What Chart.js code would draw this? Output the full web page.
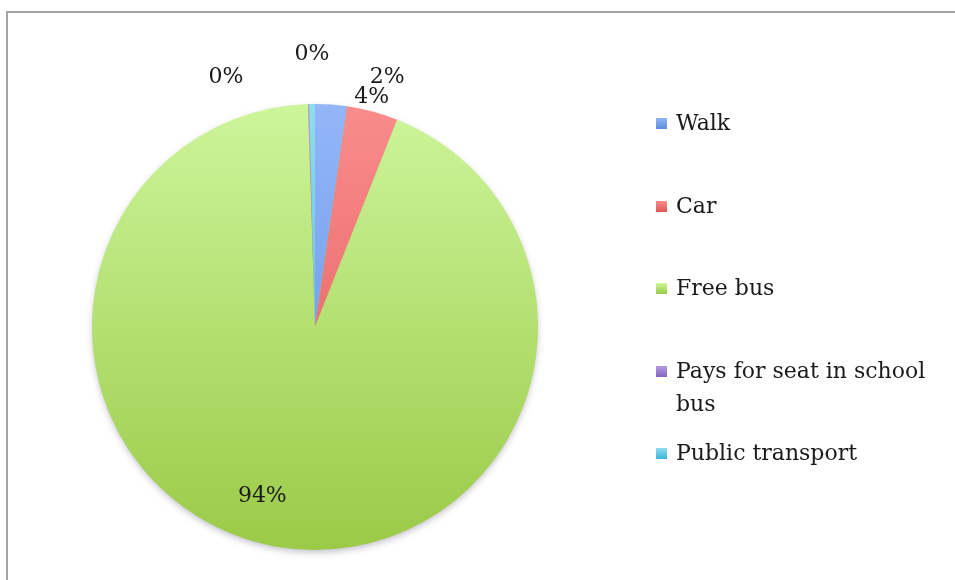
<!DOCTYPE html>
<html>
<head>
<meta charset="utf-8">
<script src="https://cdn.jsdelivr.net/npm/chart.js@4"></script>
<style>
    body { margin: 0; background: #fff; }
    #wrap { position: relative; width: 955px; height: 580px; overflow: hidden; }
    #frame { position: absolute; left: 6px; top: 11px; right: -10px; bottom: -10px;
             border-top: 2px solid #a3a3a3; border-left: 2px solid #a3a3a3; }
    #pie { position: absolute; left: 0; top: 0; }
    #legend { position: absolute; left: 656px; top: 106px; width: 280px;
              font-family: 'DejaVu Serif', serif; font-size: 22px; color: #1a1a1a; }
    .item { display: flex; align-items: flex-start; line-height: 33px; height: 82.5px; }
    .box { flex: none; width: 11px; height: 11px; margin: 12px 9px 0 0; }
</style>
</head>
<body>
<div id="wrap">
    <div id="frame"></div>
    <canvas id="pie" width="955" height="580"></canvas>
    <div id="legend"></div>
</div>
<script>
const categories = ['Walk', 'Car', 'Free bus', 'Pays for seat in school bus', 'Public transport'];
const shares = [2.3, 3.7, 93.5, 0.1, 0.4];

// slice gradients [top, bottom]
const sliceColors = [
    ['#93b6f8', '#5b8ee0'],
    ['#fa8c8c', '#e05757'],
    ['#cdf59b', '#9bca47'],
    ['#b39be0', '#8466c2'],
    ['#8edcf2', '#3fb4d6']
];

// label nudges relative to default spot (Excel "best fit" placement)
const labelNudge = [[54, 1], [-8, 13], [-22, -6], [-82, 1], [0, -22]];

const total = shares.reduce((a, b) => a + b, 0);

const legend = document.getElementById('legend');
categories.forEach((name, i) => {
    const row = document.createElement('div');
    row.className = 'item';
    const box = document.createElement('div');
    box.className = 'box';
    box.style.background = 'linear-gradient(' + sliceColors[i][0] + ',' + sliceColors[i][1] + ')';
    const txt = document.createElement('div');
    txt.textContent = name;
    row.appendChild(box);
    row.appendChild(txt);
    legend.appendChild(row);
});

function sliceFill(context) {
    const chart = context.chart;
    const area = chart.chartArea;
    if (!area) return sliceColors[context.dataIndex][1];
    const g = chart.ctx.createLinearGradient(0, area.top, 0, area.bottom);
    const c = sliceColors[context.dataIndex];
    g.addColorStop(0, c[0]);
    g.addColorStop(1, c[1]);
    return g;
}

const pieShadow = {
    id: 'pieShadow',
    beforeDatasetsDraw(chart) {
        const arc = chart.getDatasetMeta(0).data[0];
        if (!arc) return;
        const ctx = chart.ctx;
        ctx.save();
        ctx.shadowColor = 'rgba(60, 60, 90, 0.35)';
        ctx.shadowBlur = 7;
        ctx.shadowOffsetY = 3;
        ctx.fillStyle = '#a8d460';
        ctx.beginPath();
        ctx.arc(arc.x, arc.y, arc.outerRadius - 1, 0, Math.PI * 2);
        ctx.fill();
        ctx.restore();
    }
};

const pctLabels = {
    id: 'pctLabels',
    afterDatasetsDraw(chart) {
        const ctx = chart.ctx;
        ctx.save();
        ctx.font = '22px "DejaVu Serif", serif';
        ctx.fillStyle = '#1a1a1a';
        ctx.textAlign = 'center';
        ctx.textBaseline = 'middle';
        chart.getDatasetMeta(0).data.forEach((arc, i) => {
            const p = arc.getProps(['x', 'y', 'startAngle', 'endAngle', 'outerRadius'], true);
            const mid = (p.startAngle + p.endAngle) / 2;
            const frac = shares[i] / total;
            const dist = frac > 0.1 ? p.outerRadius * 0.8 : p.outerRadius + 28;
            const x = p.x + Math.cos(mid) * dist + labelNudge[i][0];
            const y = p.y + Math.sin(mid) * dist + labelNudge[i][1];
            ctx.fillText(Math.round(frac * 100) + '%', x, y);
        });
        ctx.restore();
    }
};

new Chart(document.getElementById('pie'), {
    type: 'pie',
    data: {
        labels: categories,
        datasets: [{
            data: shares,
            backgroundColor: sliceFill,
            borderWidth: 0
        }]
    },
    options: {
        responsive: false,
        animation: false,
        layout: { padding: { left: 92, right: 417, top: 104, bottom: 30 } },
        plugins: {
            legend: { display: false },
            tooltip: { enabled: false }
        }
    },
    plugins: [pieShadow, pctLabels]
});
</script>
</body>
</html>
